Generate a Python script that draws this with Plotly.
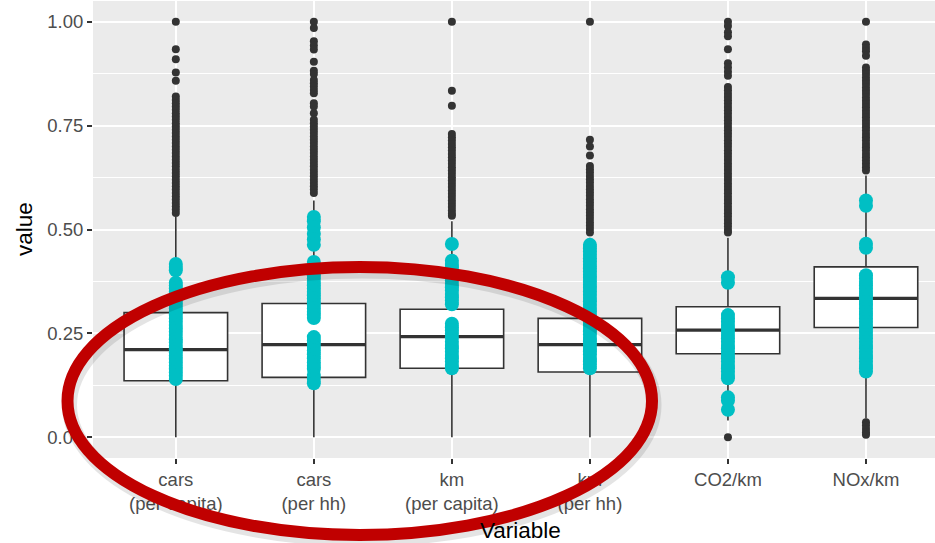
import plotly.graph_objects as go

# ---- data -------------------------------------------------------------
categories = ["cars<br>(per capita)", "cars<br>(per hh)", "km<br>(per capita)",
              "km<br>(per hh)", "CO2/km", "NOx/km"]
positions = [1, 2, 3, 4, 5, 6]

q1 = [0.136, 0.144, 0.166, 0.157, 0.201, 0.264]
median = [0.211, 0.223, 0.242, 0.223, 0.258, 0.334]
q3 = [0.300, 0.322, 0.308, 0.286, 0.314, 0.410]
lower_fence = [0.000, 0.000, 0.000, 0.000, 0.040, 0.045]
upper_fence = [0.530, 0.570, 0.520, 0.480, 0.480, 0.630]

# outlying observations (beyond the whiskers)
out_cars_pc = [1.000, 0.934, 0.910, 0.878, 0.858, 0.820, 0.812, 0.804, 0.796, 0.788,
               0.780, 0.772, 0.764, 0.756, 0.748, 0.740, 0.732, 0.724, 0.716, 0.708,
               0.700, 0.692, 0.684, 0.676, 0.668, 0.660, 0.652, 0.644, 0.636, 0.628,
               0.620, 0.612, 0.604, 0.596, 0.588, 0.580, 0.572, 0.564, 0.556, 0.548,
               0.540]
out_cars_hh = [1.000, 0.985, 0.953, 0.943, 0.933, 0.904, 0.882, 0.874, 0.860, 0.852,
               0.844, 0.836, 0.828, 0.804, 0.796, 0.780, 0.764, 0.756, 0.748, 0.740,
               0.732, 0.724, 0.716, 0.708, 0.700, 0.692, 0.684, 0.676, 0.668, 0.660,
               0.652, 0.644, 0.636, 0.628, 0.620, 0.612, 0.604, 0.596, 0.588]
out_km_pc = [1.000, 0.834, 0.798, 0.730, 0.722, 0.714, 0.706, 0.698, 0.690, 0.682,
             0.674, 0.666, 0.658, 0.650, 0.642, 0.634, 0.626, 0.618, 0.610, 0.602,
             0.594, 0.586, 0.578, 0.570, 0.562, 0.554, 0.546, 0.538, 0.533]
out_km_hh = [1.000, 0.716, 0.700, 0.678, 0.653, 0.645, 0.637, 0.629, 0.621, 0.613,
             0.605, 0.597, 0.589, 0.581, 0.573, 0.565, 0.557, 0.549, 0.541, 0.533,
             0.525, 0.517, 0.509, 0.501, 0.493]
out_co2 = [1.000, 0.990, 0.975, 0.965, 0.934, 0.900, 0.890, 0.880, 0.870, 0.843,
           0.835, 0.827, 0.819, 0.811, 0.803, 0.795, 0.787, 0.779, 0.771, 0.763,
           0.755, 0.747, 0.739, 0.731, 0.723, 0.715, 0.707, 0.699, 0.691, 0.683,
           0.675, 0.667, 0.659, 0.651, 0.643, 0.635, 0.627, 0.619, 0.611, 0.603,
           0.595, 0.587, 0.579, 0.571, 0.563, 0.555, 0.547, 0.539, 0.531, 0.523,
           0.515, 0.507, 0.499, 0.493, 0.000]
out_nox = [1.000, 0.945, 0.937, 0.929, 0.918, 0.890, 0.882, 0.874, 0.866, 0.858,
           0.850, 0.842, 0.834, 0.826, 0.818, 0.810, 0.802, 0.794, 0.786, 0.778,
           0.770, 0.762, 0.754, 0.746, 0.738, 0.730, 0.722, 0.714, 0.706, 0.698,
           0.690, 0.682, 0.674, 0.666, 0.658, 0.650, 0.642,
           0.036, 0.028, 0.020, 0.012, 0.006]
outliers = [out_cars_pc, out_cars_hh, out_km_pc, out_km_hh, out_co2, out_nox]

# highlighted observations
hl_cars_pc = [0.417, 0.410, 0.402, 0.372, 0.365, 0.358, 0.350, 0.342, 0.334, 0.326,
              0.318, 0.310, 0.302, 0.294, 0.286, 0.278, 0.270, 0.262, 0.254, 0.246,
              0.236, 0.228, 0.220, 0.212, 0.204, 0.196, 0.188, 0.180, 0.172, 0.164,
              0.156, 0.148, 0.140]
hl_cars_hh = [0.530, 0.520, 0.505, 0.490, 0.476, 0.463, 0.422, 0.414, 0.406, 0.398,
              0.390, 0.382, 0.374, 0.366, 0.358, 0.350, 0.342, 0.334, 0.326, 0.318,
              0.310, 0.302, 0.294, 0.287, 0.241, 0.233, 0.225, 0.217, 0.209, 0.200,
              0.190, 0.180, 0.172, 0.164, 0.150, 0.140, 0.130]
hl_km_pc = [0.465, 0.425, 0.417, 0.409, 0.401, 0.393, 0.385, 0.377, 0.369, 0.361,
            0.353, 0.345, 0.337, 0.329, 0.320, 0.273, 0.265, 0.257, 0.249, 0.240,
            0.230, 0.222, 0.214, 0.206, 0.198, 0.190, 0.182, 0.174, 0.166]
hl_km_hh = [0.463, 0.455, 0.447, 0.439, 0.431, 0.423, 0.415, 0.407, 0.399, 0.391,
            0.383, 0.375, 0.367, 0.359, 0.351, 0.343, 0.335, 0.327, 0.319, 0.311,
            0.303, 0.295, 0.287, 0.279, 0.271, 0.263, 0.255, 0.247, 0.239, 0.231,
            0.223, 0.215, 0.207, 0.199, 0.191, 0.183, 0.175, 0.166]
hl_co2 = [0.385, 0.372, 0.294, 0.286, 0.278, 0.270, 0.262, 0.254, 0.246, 0.238,
          0.230, 0.222, 0.214, 0.206, 0.198, 0.190, 0.182, 0.174, 0.166, 0.158,
          0.150, 0.142, 0.096, 0.088, 0.066]
hl_nox = [0.570, 0.557, 0.466, 0.456, 0.390, 0.382, 0.374, 0.366, 0.358, 0.350,
          0.342, 0.334, 0.326, 0.318, 0.310, 0.302, 0.294, 0.286, 0.278, 0.270,
          0.262, 0.254, 0.246, 0.238, 0.230, 0.222, 0.214, 0.206, 0.198, 0.190,
          0.182, 0.174, 0.166, 0.158]
highlighted = [hl_cars_pc, hl_cars_hh, hl_km_pc, hl_km_hh, hl_co2, hl_nox]

y_ticks = [0.0, 0.25, 0.5, 0.75, 1.0]
y_tick_labels = ["0.00", "0.25", "0.50", "0.75", "1.00"]

# ---- layout geometry (pixels) ------------------------------------------
W, H = 935, 543
ML, MR, MT, MB = 93, 0, 1, 85
PW, PH = W - ML - MR, H - MT - MB


def px_x(px):
    return (px - ML) / PW


def px_y(py):
    return (H - MB - py) / PH


INK = "#333333"
HALF_W = 0.375

fig = go.Figure()

fig.add_trace(go.Box(
    x=positions, q1=q1, median=median, q3=q3,
    lowerfence=lower_fence, upperfence=upper_fence,
    boxpoints=False, width=2 * HALF_W, whiskerwidth=0,
    fillcolor="white", line=dict(color=INK, width=1.6),
    showlegend=False, hoverinfo="skip",
))

# heavier median bar, as in ggplot
mx, my = [], []
for p, m in zip(positions, median):
    mx += [p - HALF_W, p + HALF_W, None]
    my += [m, m, None]
fig.add_trace(go.Scatter(x=mx, y=my, mode="lines",
                         line=dict(color=INK, width=3.2),
                         showlegend=False, hoverinfo="skip"))

ox, oy = [], []
for p, vals in zip(positions, outliers):
    ox += [p] * len(vals)
    oy += vals
fig.add_trace(go.Scatter(x=ox, y=oy, mode="markers",
                         marker=dict(color=INK, size=8, line=dict(width=0)),
                         showlegend=False, hoverinfo="skip"))

hx, hy = [], []
for p, vals in zip(positions, highlighted):
    hx += [p] * len(vals)
    hy += vals
fig.add_trace(go.Scatter(x=hx, y=hy, mode="markers",
                         marker=dict(color="#00BFC4", size=14, line=dict(width=0)),
                         showlegend=False, hoverinfo="skip"))

tick_font = dict(family="Liberation Sans, Arial, sans-serif", size=18.5, color="#4D4D4D")
title_font = dict(family="Liberation Sans, Arial, sans-serif", size=22.5, color="black")

fig.update_layout(
    width=W, height=H,
    margin=dict(l=ML, r=MR, t=MT, b=MB, pad=0),
    paper_bgcolor="white", plot_bgcolor="#EBEBEB",
    xaxis=dict(
        range=[0.4, 6.5], tickmode="array", tickvals=positions, ticktext=categories,
        showgrid=True, gridcolor="white", gridwidth=2, zeroline=False, showline=False,
        ticks="outside", ticklen=5, tickwidth=1.5, tickcolor=INK, tickfont=tick_font,
        fixedrange=True,
    ),
    yaxis=dict(
        range=[-0.05, 1.05], tickmode="array", tickvals=y_ticks, ticktext=y_tick_labels,
        showgrid=True, gridcolor="white", gridwidth=2, zeroline=False, showline=False,
        ticks="outside", ticklen=5, tickwidth=1.5, tickcolor=INK, tickfont=tick_font,
        minor=dict(tick0=0.125, dtick=0.25, showgrid=True, gridcolor="white", gridwidth=1),
        fixedrange=True,
    ),
    annotations=[
        dict(text="Variable", xref="paper", yref="paper", x=px_x(520), y=px_y(530),
             xanchor="center", yanchor="middle", showarrow=False, font=title_font),
        dict(text="value", xref="paper", yref="paper", x=px_x(24), y=px_y(229),
             xanchor="center", yanchor="middle", textangle=-90, showarrow=False,
             font=title_font),
    ],
)

# emphasis ring round the first four variables, with a faint drop shadow
ring = dict(cx0=67.5, cx1=652, cy0=267, cy1=535)
fig.add_shape(type="circle", xref="paper", yref="paper", layer="above",
              x0=px_x(ring["cx0"] + 2), x1=px_x(ring["cx1"] + 2),
              y0=px_y(ring["cy0"] + 4), y1=px_y(ring["cy1"] + 4),
              line=dict(color="black", width=15), opacity=0.10)
fig.add_shape(type="circle", xref="paper", yref="paper", layer="above",
              x0=px_x(ring["cx0"]), x1=px_x(ring["cx1"]),
              y0=px_y(ring["cy0"]), y1=px_y(ring["cy1"]),
              line=dict(color="#C00000", width=12))

fig.write_html("out.html")
